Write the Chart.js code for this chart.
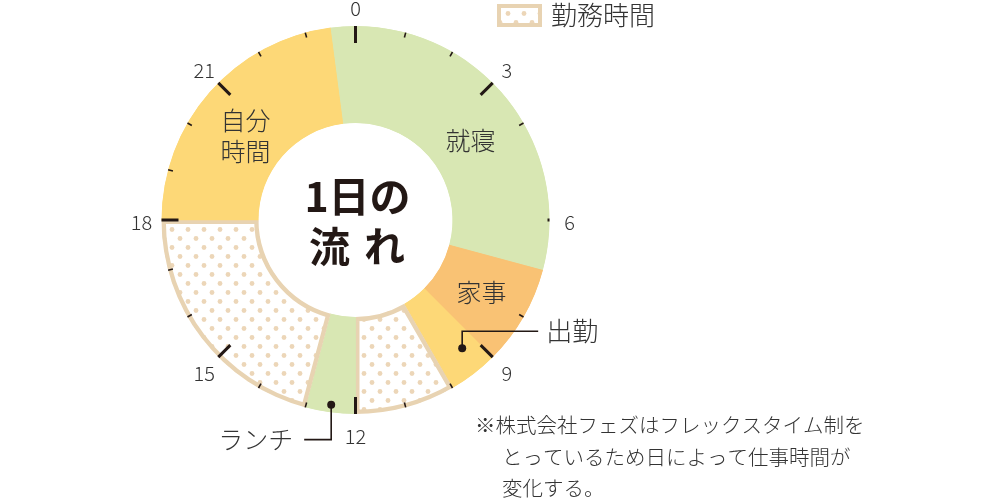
<!DOCTYPE html>
<html><head><meta charset="utf-8">
<script src="https://cdn.jsdelivr.net/npm/chart.js@4.4.0/dist/chart.umd.min.js"></script>
<style>html,body{margin:0;padding:0;background:#fff;}</style>
</head><body>
<canvas id="c" width="1000" height="500"></canvas>
<script>
// ---- data ----
const categories = ['就寝', '家事', '出勤', '勤務時間', 'ランチ', '勤務時間', '自分時間'];
const hours = [7.5, 2, 1, 2, 1, 5, 5.5];
const startHour = 23.5;
const hourTicks = ['0', '3', '6', '9', '12', '15', '18', '21'];
const legendLabel = '勤務時間';
const titleLines = ['1日の', '流れ'];
const noteLines = ['※株式会社フェズはフレックスタイム制を', 'とっているため日によって仕事時間が', '変化する。'];

// ---- styles ----
const GREEN = '#d8e7b3', ORANGE = '#f9c274', YELLOW = '#fdd877', TAN = '#e8d3b2', DOT = '#ecd6b8', INK = '#231815';
const JP = '"Noto Sans CJK JP", "Noto Sans", sans-serif';

function makePattern() {
  const t = document.createElement('canvas');
  t.width = 16; t.height = 18;
  const g = t.getContext('2d');
  g.fillStyle = '#fff'; g.fillRect(0, 0, 16, 18);
  g.fillStyle = DOT;
  [[4, 4.5], [12, 13.5]].forEach(([x, y]) => { g.beginPath(); g.arc(x, y, 2.4, 0, Math.PI * 2); g.fill(); });
  return g.createPattern(t, 'repeat');
}
const pattern = makePattern();

const fills = [GREEN, ORANGE, YELLOW, pattern, GREEN, pattern, YELLOW];
const borders = [GREEN, ORANGE, YELLOW, TAN, GREEN, TAN, YELLOW];
const bw = [1, 1, 1, 4, 1, 4, 1];

const decor = {
  id: 'decor',
  afterDatasetsDraw(chart) {
    const ctx = chart.ctx;
    const arcs = chart.getDatasetMeta(0).data;
    const a0 = arcs[0];
    const cx = a0.x, cy = a0.y, R = a0.outerRadius, r = a0.innerRadius;
    const ang = h => -Math.PI / 2 + h * Math.PI * 2 / 24;
    const pt = (h, rad) => [cx + rad * Math.cos(ang(h)), cy + rad * Math.sin(ang(h))];
    ctx.save();
    // ticks
    ctx.strokeStyle = INK; ctx.lineCap = 'butt';
    for (let h = 0; h < 24; h++) {
      if (h === 5 || h === 7) continue;
      const major = h % 3 === 0;
      let len = major ? 17 : 5;
      if (h === 6) len = 2;
      ctx.lineWidth = major ? 3 : 1.6;
      const [x1, y1] = pt(h, R);
      const [x2, y2] = pt(h, R - len);
      ctx.beginPath(); ctx.moveTo(x1, y1); ctx.lineTo(x2, y2); ctx.stroke();
    }
    // tick labels
    ctx.fillStyle = '#333'; ctx.font = '300 20px ' + JP; ctx.textAlign = 'center'; ctx.textBaseline = 'middle';
    hourTicks.forEach((lab, i) => {
      const [x, y] = pt(i * 3, R + 20);
      ctx.fillText(lab, x, y + 2);
    });
    // segment labels
    ctx.font = '300 25px ' + JP; ctx.fillStyle = '#333';
    const spot = (h, k) => pt(h, r + k * (R - r));
    let [x, y] = spot(3.7, 0.44); ctx.fillText(categories[0], x, y);
    [x, y] = spot(8.0, 0.5); ctx.fillText(categories[1], x, y);
    [x, y] = spot(20.5, 0.43); ctx.fillText('自分', x, y - 15); ctx.fillText('時間', x, y + 16);
    // callouts
    ctx.strokeStyle = INK; ctx.lineWidth = 1.6; ctx.fillStyle = INK;
    // 出勤
    let [dx, dy] = spot(9.35, 0.72);
    ctx.beginPath(); ctx.arc(dx, dy, 4, 0, Math.PI * 2); ctx.fill();
    ctx.beginPath(); ctx.moveTo(dx, dy); ctx.lineTo(dx, dy - 17); ctx.lineTo(dx + 76, dy - 17); ctx.stroke();
    ctx.fillStyle = '#333'; ctx.textAlign = 'left'; ctx.font = '300 26px ' + JP;
    ctx.fillText(categories[2], dx + 84, dy - 17);
    // ランチ
    ctx.fillStyle = INK;
    [dx, dy] = spot(12.5, 0.92);
    ctx.beginPath(); ctx.arc(dx, dy, 4, 0, Math.PI * 2); ctx.fill();
    ctx.beginPath(); ctx.moveTo(dx, dy); ctx.lineTo(dx, dy + 35); ctx.lineTo(dx - 27, dy + 35); ctx.stroke();
    ctx.fillStyle = '#333'; ctx.textAlign = 'right'; ctx.font = '300 25px ' + JP;
    ctx.fillText(categories[4], dx - 38, dy + 35);
    // center title
    ctx.fillStyle = INK; ctx.textAlign = 'center'; ctx.font = 'bold 41px ' + JP;
    ctx.fillText(titleLines[0], cx + 2, cy - 24);
    const chars = [...titleLines[1]];
    ctx.fillText(chars[0], cx - 26, cy + 26);
    ctx.fillText(chars[1], cx + 29, cy + 26);
    // legend
    ctx.fillStyle = pattern; ctx.fillRect(497, 4, 45, 23);
    ctx.strokeStyle = TAN; ctx.lineWidth = 4; ctx.strokeRect(499, 6, 41, 19);
    ctx.fillStyle = '#333'; ctx.textAlign = 'left'; ctx.font = '300 26px ' + JP;
    ctx.fillText(legendLabel, 551, 15);
    // note
    ctx.font = '300 20.5px ' + JP; ctx.fillStyle = '#333';
    ctx.fillText(noteLines[0], 475, 425);
    ctx.fillText(noteLines[1], 502, 457);
    ctx.fillText(noteLines[2], 502, 488);
    ctx.restore();
  }
};

new Chart(document.getElementById('c'), {
  type: 'doughnut',
  data: {
    labels: categories,
    datasets: [{
      data: hours,
      backgroundColor: fills,
      borderColor: borders,
      borderWidth: bw,
      borderAlign: 'inner'
    }]
  },
  options: {
    responsive: false,
    animation: false,
    events: [],
    rotation: startHour * 15,
    cutout: '50%',
    layout: { padding: { left: 161.5, right: 450.5, top: 26, bottom: 86 } },
    plugins: { legend: { display: false }, tooltip: { enabled: false } }
  },
  plugins: [decor]
});
</script>
</body></html>
